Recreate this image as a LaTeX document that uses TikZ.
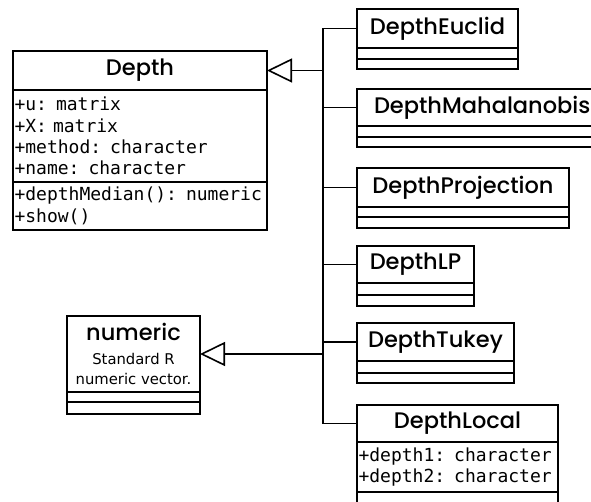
\documentclass[tikz,border=0pt]{standalone}
\usepackage{fontspec}
\usetikzlibrary{arrows.meta}
\newfontfamily\clsfont{Poppins}[UprightFont={* Medium}]
\newfontfamily\monofont{DejaVu Sans Mono}
\newfontfamily\cmtfont{DejaVu Sans}
\newcommand\cmtsize{\cmtfont\fontsize{14.8}{20}\selectfont}
\tikzset{
  box/.style={draw, line width=1.6pt, anchor=north west, inner sep=0pt, outer sep=0pt},
  cls/.style={box, font=\clsfont\fontsize{22.5}{24}\selectfont},
  attrs/.style={box, align=left, inner xsep=1.5pt, font=\monofont\fontsize{18}{21.3}\selectfont},
  comp/.style={box, minimum height=11pt},
  conn/.style={line width=1.6pt},
  inh/.style={line width=1.6pt, -{Triangle[open, length=25pt, width=24pt, fill=white]}},
}
\begin{document}
\begin{tikzpicture}[x=1pt, y=-1pt]
\useasboundingbox (0,0) rectangle (591,502);
\clip (0,0) rectangle (591,502);
% Depth
\node[cls, minimum width=254pt, minimum height=39pt] (depth) at (13,51) {Depth};
\node[attrs, minimum width=254pt, text width=251pt, minimum height=92pt] (depthattr) at (depth.south west)
  {+u: matrix\\+X: matrix\\+method: character\\+name: character};
\node[attrs, minimum width=254pt, text width=251pt, minimum height=48pt] (depthops) at (depthattr.south west)
  {+depthMedian(): numeric\\+show()};
% numeric
\node[cls, minimum width=133pt, minimum height=76pt, align=center] (numeric) at (67,316)
  {numeric\\[0pt]\cmtsize Standard R\\[-4pt]\cmtsize numeric vector.};
\node[comp, minimum width=133pt, minimum height=10pt] (numericA) at (numeric.south west) {};
\node[comp, minimum width=133pt, minimum height=12pt] (numericB) at (numericA.south west) {};
% DepthEuclid
\node[cls, minimum width=161pt, minimum height=39pt] (euc) at (357,9) {DepthEuclid};
\node[comp, minimum width=161pt] (eucA) at (euc.south west) {};
\node[comp, minimum width=161pt, minimum height=10pt] (eucB) at (eucA.south west) {};
% DepthMahalanobis
\node[cls, minimum width=250pt, minimum height=37pt, text width=240pt, align=left] (mah) at (357,89) {\hspace*{12pt}DepthMahalanobis};
\node[comp, minimum width=250pt] (mahA) at (mah.south west) {};
\node[comp, minimum width=250pt, minimum height=10pt] (mahB) at (mahA.south west) {};
% DepthProjection
\node[cls, minimum width=212pt, minimum height=39pt] (proj) at (357,168) {DepthProjection};
\node[comp, minimum width=212pt, minimum height=10pt] (projA) at (proj.south west) {};
\node[comp, minimum width=212pt] (projB) at (projA.south west) {};
% DepthLP
\node[cls, minimum width=117pt, minimum height=37pt] (lp) at (357,246) {DepthLP};
\node[comp, minimum width=117pt, minimum height=12pt] (lpA) at (lp.south west) {};
\node[comp, minimum width=117pt] (lpB) at (lpA.south west) {};
% DepthTukey
\node[cls, minimum width=157pt, minimum height=38pt] (tukey) at (357,323) {DepthTukey};
\node[comp, minimum width=157pt, minimum height=12pt] (tukeyA) at (tukey.south west) {};
\node[comp, minimum width=157pt, minimum height=10pt] (tukeyB) at (tukeyA.south west) {};
% DepthLocal
\node[cls, minimum width=201pt, minimum height=37pt] (local) at (357,405) {DepthLocal};
\node[attrs, minimum width=201pt, text width=198pt, minimum height=50pt] (localattr) at (local.south west)
  {+depth1: character\\+depth2: character};
\node[comp, minimum width=201pt, minimum height=20pt] (localB) at (localattr.south west) {};
% connectors
\coordinate (jt) at (323,0);
\draw[conn] (euc.west) -- (euc.west -| jt) -- (local.west -| jt) -- (local.west);
\draw[conn] (mah.west) -- (mah.west -| jt);
\draw[conn] (proj.west) -- (proj.west -| jt);
\draw[conn] (lp.west) -- (lp.west -| jt);
\draw[conn] (tukey.west) -- (tukey.west -| jt);
\draw[inh] (depth.east -| jt) -- (depth.east);
\draw[inh] (numeric.east -| jt) -- (numeric.east);
\end{tikzpicture}
\end{document}
